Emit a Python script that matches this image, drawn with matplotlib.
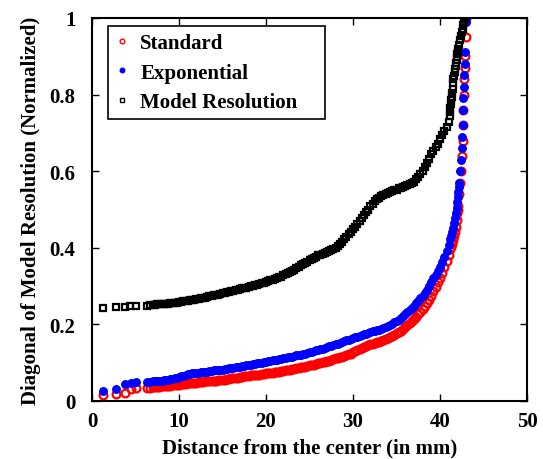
import matplotlib
matplotlib.use("Agg")
import matplotlib.pyplot as plt

plt.rcParams['font.family'] = ['Liberation Serif', 'DejaVu Serif']
plt.rcParams['font.weight'] = 'bold'

# shared distance grid (mm) for the densely sampled part of the mesh
grid_x = [7.0, 7.25, 7.5, 7.75, 8.0, 8.25, 8.5, 8.75, 9.0, 9.25, 9.5, 9.75, 10.0, 10.25, 10.5, 10.75,
          11.0, 11.25, 11.5, 11.75, 12.0, 12.25, 12.5, 12.75, 13.0, 13.25, 13.5, 13.75, 14.0, 14.25, 14.5, 14.75,
          15.0, 15.25, 15.5, 15.75, 16.0, 16.25, 16.5, 16.75, 17.0, 17.25, 17.5, 17.75, 18.0, 18.25, 18.5, 18.75,
          19.0, 19.25, 19.5, 19.75, 20.0, 20.25, 20.5, 20.75, 21.0, 21.25, 21.5, 21.75, 22.0, 22.25, 22.5, 22.75,
          23.0, 23.25, 23.5, 23.75, 24.0, 24.25, 24.5, 24.75, 25.0, 25.25, 25.5, 25.75, 26.0, 26.25, 26.5, 26.75,
          27.0, 27.25, 27.5, 27.75, 28.0, 28.25, 28.5, 28.75, 29.0, 29.25, 29.5, 29.75, 30.0, 30.25, 30.5, 30.75,
          31.0, 31.25, 31.5, 31.75, 32.0, 32.25, 32.5, 32.75, 33.0, 33.25, 33.5, 33.75, 34.0, 34.25, 34.5, 34.75,
          35.0, 35.25, 35.5, 35.75, 36.0, 36.25, 36.5, 36.75, 37.0, 37.25, 37.5, 37.75, 38.0, 38.25, 38.5, 38.75,
          39.0, 39.25, 39.5, 39.75, 40.0, 40.25, 40.5, 40.75, 41.0]

# ---- Model Resolution (black squares)
mr_x_start = [1.3, 2.8, 3.8, 4.4, 5.1, 6.3, 6.7]
mr_y_start = [0.243, 0.245, 0.246, 0.247, 0.248, 0.249, 0.250]
mr_y_grid = [0.251, 0.251, 0.252, 0.252, 0.253, 0.253, 0.254, 0.254, 0.255, 0.256, 0.257, 0.257, 0.258, 0.259,
             0.260, 0.261, 0.262, 0.263, 0.264, 0.265, 0.266, 0.267, 0.268, 0.269, 0.270, 0.272, 0.273, 0.275,
             0.276, 0.277, 0.278, 0.280, 0.281, 0.283, 0.284, 0.285, 0.286, 0.288, 0.289, 0.291, 0.292, 0.294,
             0.295, 0.296, 0.297, 0.299, 0.300, 0.302, 0.304, 0.305, 0.307, 0.309, 0.311, 0.313, 0.315, 0.317,
             0.319, 0.321, 0.323, 0.325, 0.328, 0.331, 0.334, 0.337, 0.340, 0.343, 0.347, 0.350, 0.354, 0.357,
             0.361, 0.364, 0.367, 0.370, 0.373, 0.377, 0.380, 0.382, 0.385, 0.387, 0.390, 0.392, 0.395, 0.397,
             0.400, 0.405, 0.410, 0.416, 0.422, 0.428, 0.435, 0.441, 0.448, 0.455, 0.462, 0.469, 0.477, 0.485,
             0.493, 0.500, 0.508, 0.515, 0.522, 0.527, 0.531, 0.534, 0.537, 0.540, 0.542, 0.545, 0.547, 0.550,
             0.552, 0.555, 0.557, 0.560, 0.562, 0.565, 0.567, 0.570, 0.573, 0.579, 0.585, 0.592, 0.600, 0.611,
             0.622, 0.633, 0.644, 0.653, 0.662, 0.672, 0.683, 0.694, 0.705, 0.716, 0.728]
mr_x_end = [41.1, 41.15, 41.2, 41.25, 41.3, 41.35, 41.4, 41.45, 41.5, 41.55, 41.6, 41.7, 41.75, 41.8, 41.85,
            41.9, 41.95, 42.0, 42.05, 42.1, 42.2, 42.3, 42.4, 42.5, 42.6, 42.7, 42.8, 42.9]
mr_y_end = [0.745, 0.755, 0.765, 0.775, 0.785, 0.795, 0.805, 0.815, 0.830, 0.840, 0.848, 0.858, 0.866, 0.874,
            0.882, 0.890, 0.898, 0.905, 0.912, 0.919, 0.930, 0.942, 0.953, 0.963, 0.972, 0.982, 0.990, 1.0]

# ---- Exponential (blue dots)
ex_x_start = [1.3, 2.8, 3.8, 4.5, 5.1, 6.3, 6.7]
ex_y_start = [0.027, 0.031, 0.044, 0.047, 0.049, 0.050, 0.050]
ex_y_grid = [0.051, 0.051, 0.052, 0.052, 0.053, 0.054, 0.055, 0.056, 0.057, 0.058, 0.059, 0.060, 0.062, 0.064,
             0.066, 0.068, 0.070, 0.071, 0.072, 0.073, 0.074, 0.074, 0.075, 0.076, 0.077, 0.077, 0.078, 0.079,
             0.080, 0.080, 0.081, 0.081, 0.082, 0.083, 0.084, 0.085, 0.086, 0.087, 0.088, 0.089, 0.090, 0.091,
             0.092, 0.093, 0.094, 0.095, 0.096, 0.097, 0.098, 0.099, 0.100, 0.101, 0.102, 0.104, 0.105, 0.106,
             0.107, 0.108, 0.109, 0.110, 0.111, 0.113, 0.114, 0.115, 0.116, 0.118, 0.119, 0.120, 0.121, 0.123,
             0.124, 0.126, 0.127, 0.129, 0.130, 0.132, 0.134, 0.136, 0.137, 0.139, 0.141, 0.143, 0.144, 0.146,
             0.148, 0.150, 0.152, 0.154, 0.156, 0.158, 0.160, 0.162, 0.164, 0.166, 0.168, 0.170, 0.172, 0.174,
             0.176, 0.178, 0.180, 0.182, 0.184, 0.185, 0.186, 0.188, 0.190, 0.193, 0.196, 0.199, 0.202, 0.205,
             0.208, 0.212, 0.216, 0.221, 0.227, 0.232, 0.238, 0.243, 0.249, 0.255, 0.261, 0.268, 0.275, 0.283,
             0.291, 0.300, 0.310, 0.320, 0.330, 0.340, 0.350, 0.362, 0.376, 0.391, 0.408]
ex_x_end = [41.2, 41.3, 41.4, 41.5, 41.6, 41.7, 41.8, 41.9, 42.0, 42.05, 42.1, 42.15, 42.2, 42.3, 42.4, 42.5,
            42.55, 42.6, 42.65, 42.7, 42.75, 42.8, 42.85, 42.9, 42.95, 43.0]
ex_y_end = [0.422, 0.431, 0.440, 0.452, 0.465, 0.478, 0.490, 0.505, 0.520, 0.532, 0.545, 0.558, 0.570, 0.600,
            0.630, 0.660, 0.690, 0.720, 0.760, 0.790, 0.820, 0.850, 0.880, 0.910, 0.990, 1.0]

# ---- Standard (red circles)
st_x_start = [1.3, 2.8, 3.8, 4.5, 5.1, 6.3, 6.7]
st_y_start = [0.016, 0.019, 0.020, 0.031, 0.033, 0.034, 0.035]
st_y_grid = [0.036, 0.036, 0.037, 0.037, 0.038, 0.038, 0.039, 0.039, 0.040, 0.041, 0.042, 0.042, 0.043, 0.044,
             0.045, 0.045, 0.046, 0.046, 0.047, 0.047, 0.048, 0.049, 0.050, 0.050, 0.051, 0.051, 0.052, 0.052,
             0.053, 0.053, 0.054, 0.054, 0.055, 0.056, 0.057, 0.058, 0.059, 0.059, 0.060, 0.061, 0.062, 0.063,
             0.064, 0.065, 0.066, 0.067, 0.068, 0.068, 0.069, 0.069, 0.070, 0.071, 0.072, 0.072, 0.073, 0.074,
             0.075, 0.076, 0.077, 0.078, 0.079, 0.080, 0.081, 0.082, 0.083, 0.084, 0.085, 0.086, 0.088, 0.089,
             0.090, 0.091, 0.093, 0.094, 0.095, 0.096, 0.098, 0.099, 0.101, 0.102, 0.104, 0.105, 0.107, 0.109,
             0.111, 0.112, 0.114, 0.116, 0.118, 0.120, 0.122, 0.124, 0.127, 0.130, 0.133, 0.136, 0.139, 0.141,
             0.144, 0.146, 0.148, 0.150, 0.151, 0.153, 0.154, 0.156, 0.158, 0.161, 0.164, 0.167, 0.170, 0.173,
             0.177, 0.180, 0.184, 0.188, 0.193, 0.198, 0.203, 0.208, 0.214, 0.220, 0.226, 0.233, 0.240, 0.247,
             0.255, 0.265, 0.275, 0.286, 0.298, 0.310, 0.322, 0.335, 0.350, 0.366, 0.382]
st_x_end = [41.2, 41.3, 41.4, 41.5, 41.6, 41.7, 41.8, 41.9, 42.0, 42.05, 42.1, 42.2, 42.3, 42.4, 42.5, 42.6,
            42.65, 42.7, 42.75, 42.8, 42.85, 42.9, 42.95, 43.0]
st_y_end = [0.396, 0.403, 0.410, 0.420, 0.430, 0.442, 0.455, 0.472, 0.490, 0.500, 0.510, 0.540, 0.570, 0.600,
            0.640, 0.680, 0.720, 0.760, 0.800, 0.840, 0.870, 0.900, 0.950, 1.0]

x_ticks = [0, 10, 20, 30, 40, 50]
y_ticks = [0, 0.2, 0.4, 0.6, 0.8, 1.0]
y_tick_labels = ['0', '0.2', '0.4', '0.6', '0.8', '1']

st_x = st_x_start + grid_x + st_x_end
st_y = st_y_start + st_y_grid + st_y_end
ex_x = ex_x_start + grid_x + ex_x_end
ex_y = ex_y_start + ex_y_grid + ex_y_end
mr_x = mr_x_start + grid_x + mr_x_end
mr_y = mr_y_start + mr_y_grid + mr_y_end

fig = plt.figure(figsize=(5.43, 4.60), dpi=100)
ax = fig.add_axes([92/543, 1-402/460, 435/543, 383/460])

ax.plot(st_x, st_y, linestyle='none', marker='o', markersize=5.6, markerfacecolor='none',
        markeredgecolor='red', markeredgewidth=1.6, label='Standard')
ax.plot(ex_x, ex_y, linestyle='none', marker='o', markersize=5.4, markerfacecolor='blue',
        markeredgecolor='blue', markeredgewidth=1.0, label='Exponential')
ax.plot(mr_x, mr_y, linestyle='none', marker='s', markersize=5.0, markerfacecolor='none',
        markeredgecolor='black', markeredgewidth=1.6, label='Model Resolution')

ax.set_xlim(0, 50)
ax.set_ylim(0, 1)
ax.set_xticks(x_ticks)
ax.set_xticklabels([str(v) for v in x_ticks])
ax.set_yticks(y_ticks)
ax.set_yticklabels(y_tick_labels)
ax.tick_params(direction='in', top=True, right=True, length=5, width=1, labelsize=15)
ax.tick_params(axis='x', pad=7)
ax.tick_params(axis='y', pad=12)
for s in ax.spines.values():
    s.set_linewidth(1.5)

ax.set_xlabel('Distance from the center (in mm)', fontsize=15, fontweight='bold', labelpad=5)
ax.set_ylabel('Diagonal of Model Resolution (Normalized)', fontsize=15, fontweight='bold', labelpad=6)

leg = ax.legend(loc='upper left', bbox_to_anchor=(16/435, 1-8/383, 217/435, 0.0), mode='expand',
                borderaxespad=0, fancybox=False, framealpha=1, edgecolor='black',
                handlelength=0.6, handletextpad=0.6, labelspacing=0.45, borderpad=0.35,
                prop={'weight': 'bold', 'size': 15}, markerscale=0.6)
leg.get_frame().set_linewidth(1.2)
for h in leg.legend_handles:
    h.set_markeredgewidth(1.0)

fig.savefig('out.png', dpi=100)
